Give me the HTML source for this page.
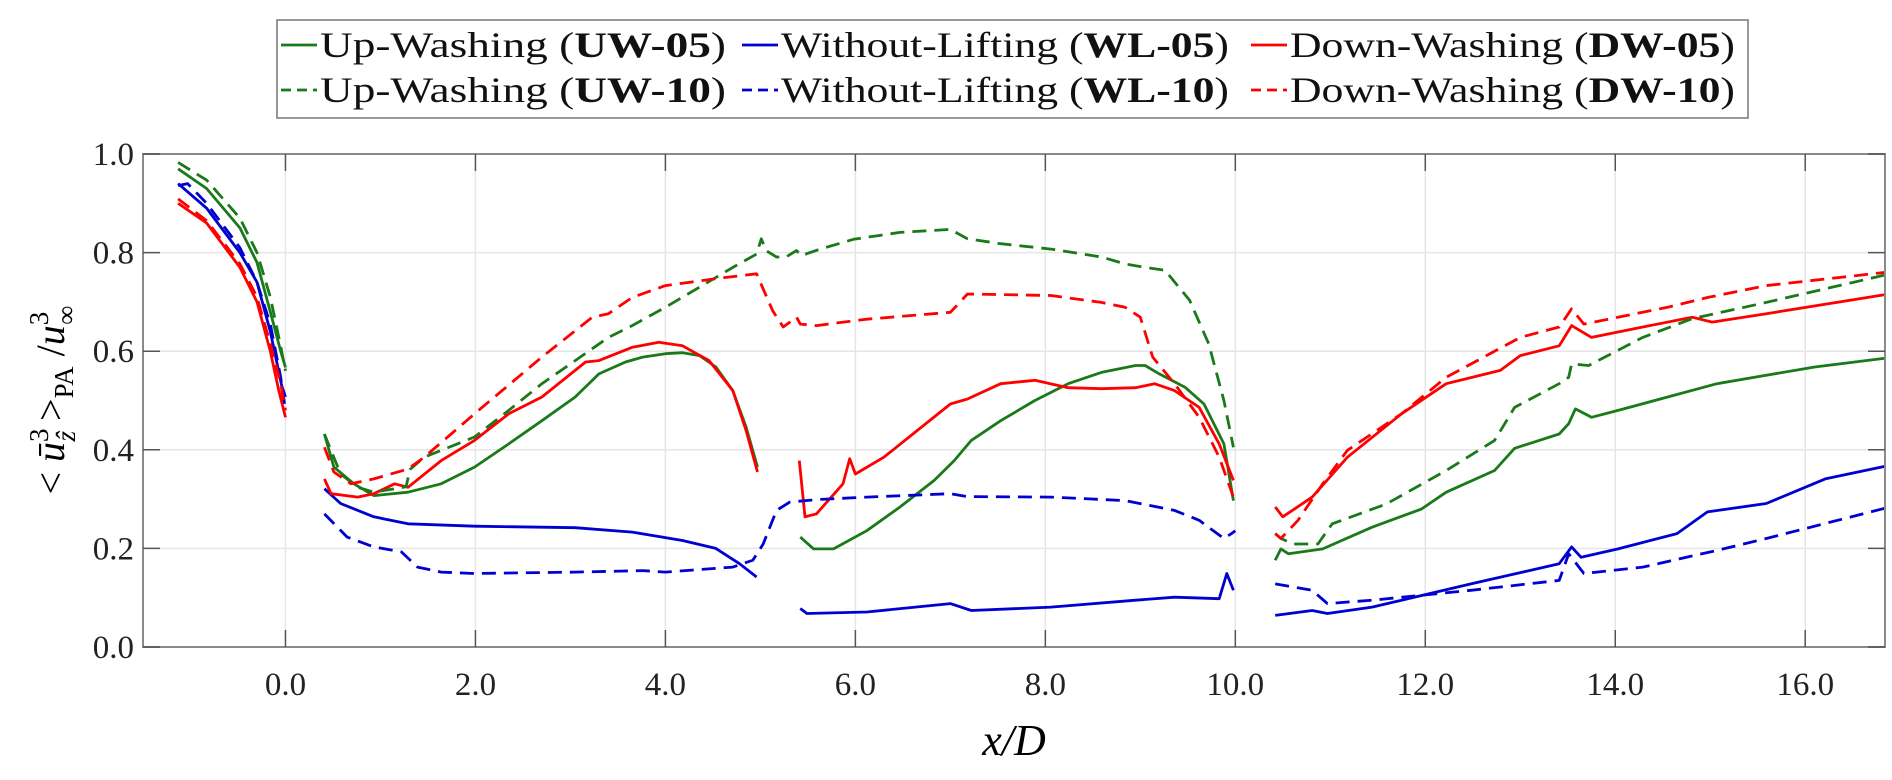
<!DOCTYPE html>
<html><head><meta charset="utf-8"><style>
html,body{margin:0;padding:0;background:#fff;}
svg{display:block;font-family:"Liberation Serif",serif;}
</style></head><body>
<svg id="chart" width="1892" height="780" xmlns="http://www.w3.org/2000/svg"></svg>
<script>
const xTicks=[0,2,4,6,8,10,12,14,16];
const xTickLabels=["0.0","2.0","4.0","6.0","8.0","10.0","12.0","14.0","16.0"];
const yTicks=[0,0.2,0.4,0.6,0.8,1.0];
const yTickLabels=["0.0","0.2","0.4","0.6","0.8","1.0"];
const seriesNames=["UW-05","WL-05","DW-05","UW-10","WL-10","DW-10"];
const legendPrefix=["Up-Washing","Without-Lifting","Down-Washing","Up-Washing","Without-Lifting","Down-Washing"];
const seriesColors=["#1a7a1a","#0000d0","#ff0000","#1a7a1a","#0000d0","#ff0000"];
const seriesDashed=[false,false,false,true,true,true];
const uw05=[
[[-1.13,0.97],[-0.83,0.93],[-0.48,0.85],[-0.30,0.78],[-0.16,0.68],[-0.05,0.60],[0,0.567]],
[[0.41,0.432],[0.51,0.365],[0.72,0.331],[0.93,0.307],[1.29,0.314],[1.64,0.331],[1.99,0.365],[2.35,0.412],[2.70,0.459],[3.05,0.507],[3.30,0.554],[3.58,0.578],[3.76,0.588],[4.0,0.595],[4.18,0.597],[4.36,0.591],[4.53,0.568],[4.71,0.52],[4.85,0.446],[4.97,0.365]],
[[5.42,0.223],[5.56,0.199],[5.77,0.199],[6.12,0.236],[6.47,0.284],[6.83,0.338],[7.04,0.378],[7.22,0.419],[7.53,0.459],[7.89,0.5],[8.24,0.534],[8.59,0.557],[8.95,0.571],[9.05,0.571],[9.2,0.554],[9.47,0.527],[9.67,0.493],[9.88,0.412],[9.98,0.297]],
[[10.42,0.176],[10.48,0.199],[10.56,0.189],[10.92,0.199],[11.44,0.243],[11.96,0.28],[12.22,0.314],[12.73,0.358],[12.94,0.403],[13.41,0.432],[13.51,0.453],[13.58,0.483],[13.75,0.466],[14.03,0.48],[15.07,0.534],[16.1,0.568],[16.85,0.586]]];
const wl05=[
[[-1.13,0.94],[-0.83,0.89],[-0.48,0.80],[-0.30,0.74],[-0.16,0.64],[-0.04,0.53],[0,0.507]],
[[0.41,0.321],[0.58,0.291],[0.93,0.264],[1.29,0.25],[1.99,0.245],[3.05,0.242],[3.65,0.233],[4.18,0.216],[4.53,0.2],[4.78,0.169],[4.96,0.142]],
[[5.42,0.078],[5.49,0.068],[6.12,0.071],[7.0,0.088],[7.22,0.074],[8.06,0.081],[8.95,0.095],[9.36,0.101],[9.83,0.098],[9.91,0.149],[9.98,0.115]],
[[10.42,0.064],[10.81,0.074],[10.97,0.068],[11.44,0.081],[12.48,0.128],[13.41,0.169],[13.54,0.203],[13.64,0.182],[14.03,0.199],[14.65,0.23],[14.97,0.274],[15.59,0.291],[16.21,0.341],[16.85,0.367]]];
const dw05=[
[[-1.13,0.90],[-0.83,0.86],[-0.48,0.77],[-0.30,0.70],[-0.16,0.60],[-0.07,0.52],[0,0.466]],
[[0.41,0.341],[0.48,0.311],[0.76,0.304],[0.93,0.311],[1.15,0.331],[1.29,0.324],[1.64,0.378],[1.99,0.419],[2.35,0.473],[2.70,0.507],[3.16,0.578],[3.30,0.581],[3.65,0.608],[3.93,0.618],[4.18,0.611],[4.46,0.581],[4.71,0.52],[4.85,0.439],[4.97,0.355]],
[[5.41,0.378],[5.47,0.264],[5.59,0.27],[5.87,0.331],[5.94,0.382],[6.0,0.351],[6.3,0.385],[6.65,0.439],[7.0,0.493],[7.18,0.503],[7.53,0.534],[7.89,0.541],[8.24,0.526],[8.59,0.524],[8.95,0.526],[9.15,0.534],[9.36,0.52],[9.62,0.486],[9.83,0.412],[9.98,0.338]],
[[10.42,0.284],[10.5,0.264],[10.81,0.304],[11.18,0.385],[11.75,0.473],[12.22,0.534],[12.79,0.561],[13.0,0.591],[13.41,0.611],[13.54,0.652],[13.75,0.628],[14.29,0.649],[14.81,0.669],[15.02,0.659],[15.59,0.676],[16.85,0.715]]];
const uw10=[
[[-1.13,0.983],[-0.83,0.947],[-0.48,0.87],[-0.30,0.80],[-0.16,0.71],[-0.05,0.61],[0,0.56]],
[[0.41,0.432],[0.58,0.351],[0.76,0.324],[0.93,0.314],[1.15,0.321],[1.27,0.325],[1.31,0.36],[1.46,0.385],[1.99,0.426],[2.35,0.48],[2.70,0.534],[3.05,0.581],[3.40,0.628],[3.65,0.652],[4.0,0.689],[4.36,0.73],[4.71,0.77],[4.96,0.797],[5.01,0.828],[5.06,0.804],[5.17,0.791],[5.27,0.791],[5.38,0.804],[5.43,0.794],[5.63,0.807],[5.98,0.827],[6.47,0.841],[7.0,0.847],[7.18,0.828],[7.53,0.818],[8.06,0.807],[8.59,0.791],[8.84,0.777],[9.05,0.77],[9.26,0.764],[9.52,0.703],[9.72,0.615],[9.88,0.5],[9.98,0.405]],
[[10.42,0.23],[10.48,0.22],[10.61,0.209],[10.87,0.209],[11.02,0.25],[11.59,0.29],[12.22,0.358],[12.73,0.419],[12.94,0.486],[13.41,0.534],[13.51,0.547],[13.54,0.574],[13.72,0.571],[14.29,0.628],[14.81,0.666],[15.59,0.699],[16.85,0.755]]];
const wl10=[
[[-1.13,0.936],[-1.03,0.94],[-0.83,0.90],[-0.48,0.81],[-0.30,0.74],[-0.16,0.655],[-0.05,0.547],[0,0.48]],
[[0.41,0.27],[0.65,0.223],[0.93,0.203],[1.22,0.193],[1.39,0.162],[1.64,0.152],[1.99,0.149],[3.05,0.152],[3.76,0.155],[4.0,0.152],[4.71,0.162],[4.92,0.176],[5.03,0.209],[5.17,0.277],[5.31,0.294],[5.59,0.299],[6.12,0.304],[7.0,0.311],[7.18,0.305],[8.06,0.304],[8.84,0.297],[9.36,0.277],[9.62,0.257],[9.88,0.22],[9.96,0.23],[10.0,0.236]],
[[10.42,0.128],[10.81,0.115],[10.97,0.088],[11.44,0.095],[12.48,0.115],[13.41,0.135],[13.51,0.189],[13.67,0.149],[14.29,0.162],[15.07,0.196],[15.59,0.22],[16.85,0.282]]];
const dw10=[
[[-1.13,0.909],[-0.83,0.865],[-0.48,0.777],[-0.30,0.71],[-0.16,0.615],[-0.05,0.534],[0,0.48]],
[[0.41,0.405],[0.51,0.355],[0.69,0.331],[0.93,0.341],[1.29,0.361],[1.46,0.385],[1.99,0.473],[2.70,0.588],[3.23,0.669],[3.40,0.676],[3.65,0.709],[4.0,0.733],[4.53,0.747],[4.96,0.757],[5.13,0.682],[5.24,0.649],[5.38,0.669],[5.42,0.655],[5.59,0.652],[6.12,0.665],[7.0,0.679],[7.18,0.716],[8.06,0.713],[8.59,0.699],[8.84,0.689],[9.0,0.669],[9.13,0.588],[9.36,0.534],[9.62,0.466],[9.83,0.385],[9.98,0.304]],
[[10.42,0.23],[10.48,0.22],[10.66,0.257],[10.92,0.331],[11.18,0.399],[11.75,0.473],[12.22,0.547],[13.0,0.628],[13.41,0.649],[13.54,0.686],[13.67,0.655],[14.55,0.689],[14.97,0.709],[15.59,0.733],[16.85,0.76]]];
const allSeries=[uw05,wl05,dw05,uw10,wl10,dw10];

const NS="http://www.w3.org/2000/svg";
const svg=document.getElementById('chart');
const L=143,R=1885,T=154,B=647;
const X0=-1.5,X1=16.84,Y0=0,Y1=1;
function sx(v){return L+(v-X0)/(X1-X0)*(R-L);}
function sy(v){return B-(v-Y0)/(Y1-Y0)*(B-T);}
function mk(tag,attrs,parent){const e=document.createElementNS(NS,tag);for(const k in attrs)e.setAttribute(k,attrs[k]);(parent||svg).appendChild(e);return e;}

const grid=mk('g',{});


xTicks.forEach(v=>{const l=mk('line',{x1:sx(v),x2:sx(v),y1:T,y2:B,stroke:'#e6e6e6','stroke-width':1.5},grid);

});
yTicks.forEach(v=>{const l=mk('line',{x1:L,x2:R,y1:sy(v),y2:sy(v),stroke:'#e6e6e6','stroke-width':1.5},grid);

});

const lines=mk('g',{fill:'none','stroke-linejoin':'round','stroke-linecap':'butt'});


allSeries.forEach((segs,i)=>{segs.forEach(seg=>{
 const d=seg.map((p,j)=>(j?'L':'M')+sx(p[0]).toFixed(1)+','+sy(p[1]).toFixed(1)).join('');
 const p=mk('path',{d:d,stroke:seriesColors[i],'stroke-width':2.8},lines);
 if(seriesDashed[i])p.setAttribute('stroke-dasharray','14 8');
 
 
});});

const ax=mk('g',{});


mk('rect',{x:L,y:T,width:R-L,height:B-T,fill:'none',stroke:'#8a8a8a','stroke-width':2},ax);
xTicks.forEach((v,i)=>{
 mk('line',{x1:sx(v),x2:sx(v),y1:B,y2:B-17,stroke:'#555','stroke-width':1.5},ax);
 mk('line',{x1:sx(v),x2:sx(v),y1:T,y2:T+17,stroke:'#555','stroke-width':1.5},ax);
 const t=mk('text',{x:sx(v),y:695,'text-anchor':'middle','font-size':33,fill:'#222'},ax);
 t.textContent=xTickLabels[i];
 
 
});
yTicks.forEach((v,i)=>{
 mk('line',{x1:L,x2:L+17,y1:sy(v),y2:sy(v),stroke:'#555','stroke-width':1.5},ax);
 mk('line',{x1:R,x2:R-17,y1:sy(v),y2:sy(v),stroke:'#555','stroke-width':1.5},ax);
 const t=mk('text',{x:134,y:sy(v)+11,'text-anchor':'end','font-size':33,fill:'#222'},ax);
 t.textContent=yTickLabels[i];
 
 
});

const lg=mk('g',{});


mk('rect',{x:277,y:20,width:1471,height:98,fill:'#fff',stroke:'#777','stroke-width':1.5},lg);
const colX=[281,742,1251];
const colW=[446,488,485];
const rowY=[45,90];
for(let i=0;i<6;i++){
 const c=i%3,r=Math.floor(i/3);
 const e=mk('g',{},lg);
 
 
 const ln=mk('line',{x1:colX[c],x2:colX[c]+36,y1:rowY[r],y2:rowY[r],stroke:seriesColors[i],'stroke-width':2.8},e);
 if(seriesDashed[i])ln.setAttribute('stroke-dasharray','10 6');
 const t=mk('text',{x:colX[c]+39,y:rowY[r]+12,'font-size':36,fill:'#111',textLength:colW[c]-40,lengthAdjust:'spacingAndGlyphs'},e);
 t.appendChild(document.createTextNode(legendPrefix[i]+' ('));
 const b=mk('tspan',{'font-weight':'bold'},t);b.textContent=seriesNames[i];
 t.appendChild(document.createTextNode(')'));
}
</script>
<svg width="1892" height="780" style="position:absolute;left:0;top:0;pointer-events:none" xmlns="http://www.w3.org/2000/svg">
<text x="1014" y="755" text-anchor="middle" font-family="Liberation Serif,serif" font-style="italic" font-size="44">x/D</text>
<text transform="translate(64,400) rotate(-90)" text-anchor="middle" font-family="Liberation Serif,serif" font-size="40">&lt; <tspan font-style="italic">ū</tspan><tspan font-size="27" dy="-16">3</tspan><tspan font-size="27" font-style="italic" dx="-13" dy="27">ẑ</tspan><tspan dy="-11"> &gt;</tspan><tspan font-size="27" dy="9">PA</tspan><tspan dy="-9"> /</tspan><tspan font-style="italic">u</tspan><tspan font-size="27" dy="-16">3</tspan><tspan font-size="27" dx="-13" dy="27">∞</tspan></text>
</svg>
</body></html>
